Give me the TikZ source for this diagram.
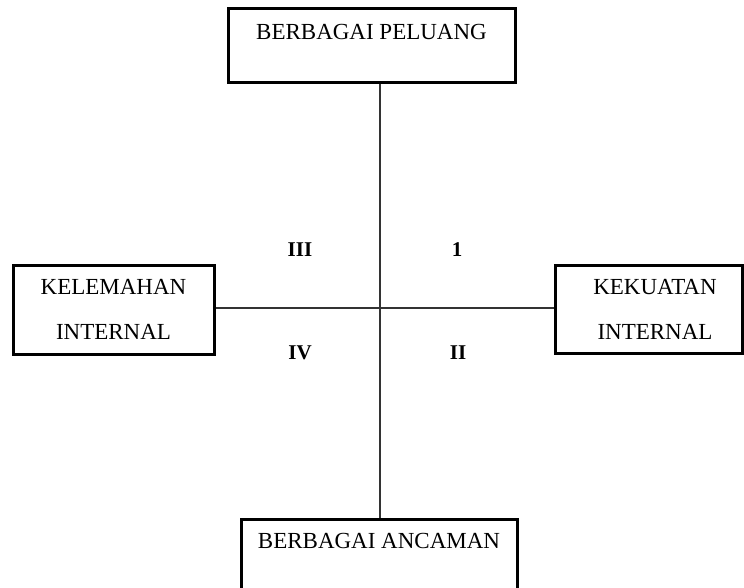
\documentclass[tikz,border=0pt]{standalone}
\usepackage{fontspec}
\setmainfont{Liberation Serif}
\begin{document}
\begin{tikzpicture}[x=1pt,y=-1pt,
  box/.style={draw=black, line width=3pt, rectangle, inner sep=0pt},
  lbl/.style={font=\fontsize{23}{45}\selectfont, align=center, inner sep=0pt},
  quad/.style={font=\fontsize{21}{25}\selectfont\bfseries, inner sep=0pt},
  axis/.style={draw=black!80, line width=1.3pt}]
\useasboundingbox (0,0) rectangle (744,588);
\node[box, minimum width=287pt, minimum height=74pt] (peluang) at (371.5,46) {};
\node[lbl] (tpeluang) at (371.5,32) {BERBAGAI PELUANG};
\node[box, minimum width=201pt, minimum height=89pt] (kelemahan) at (113.5,309.5) {};
\node[lbl] (tkelemahan) at (113.5,309.5) {KELEMAHAN\\INTERNAL};
\node[box, minimum width=187pt, minimum height=88pt] (kekuatan) at (648.5,309) {};
\node[lbl] (tkekuatan) at (655,309.5) {KEKUATAN\\INTERNAL};
\node[box, minimum width=276pt, minimum height=90pt] (ancaman) at (379,564) {};
\node[lbl] (tancaman) at (379,541) {BERBAGAI ANCAMAN};
\coordinate (c) at (380,308);
\draw[axis] (c |- peluang.south) -- (c |- ancaman.north);
\draw[axis] (kelemahan.east |- c) -- (kekuatan.west |- c);
\node[quad] (q3) at (300,250) {III};
\node[quad] (q1) at (457,250) {1};
\node[quad] (q4) at (300,353) {IV};
\node[quad] (q2) at (458,353) {II};
\end{tikzpicture}
\end{document}
